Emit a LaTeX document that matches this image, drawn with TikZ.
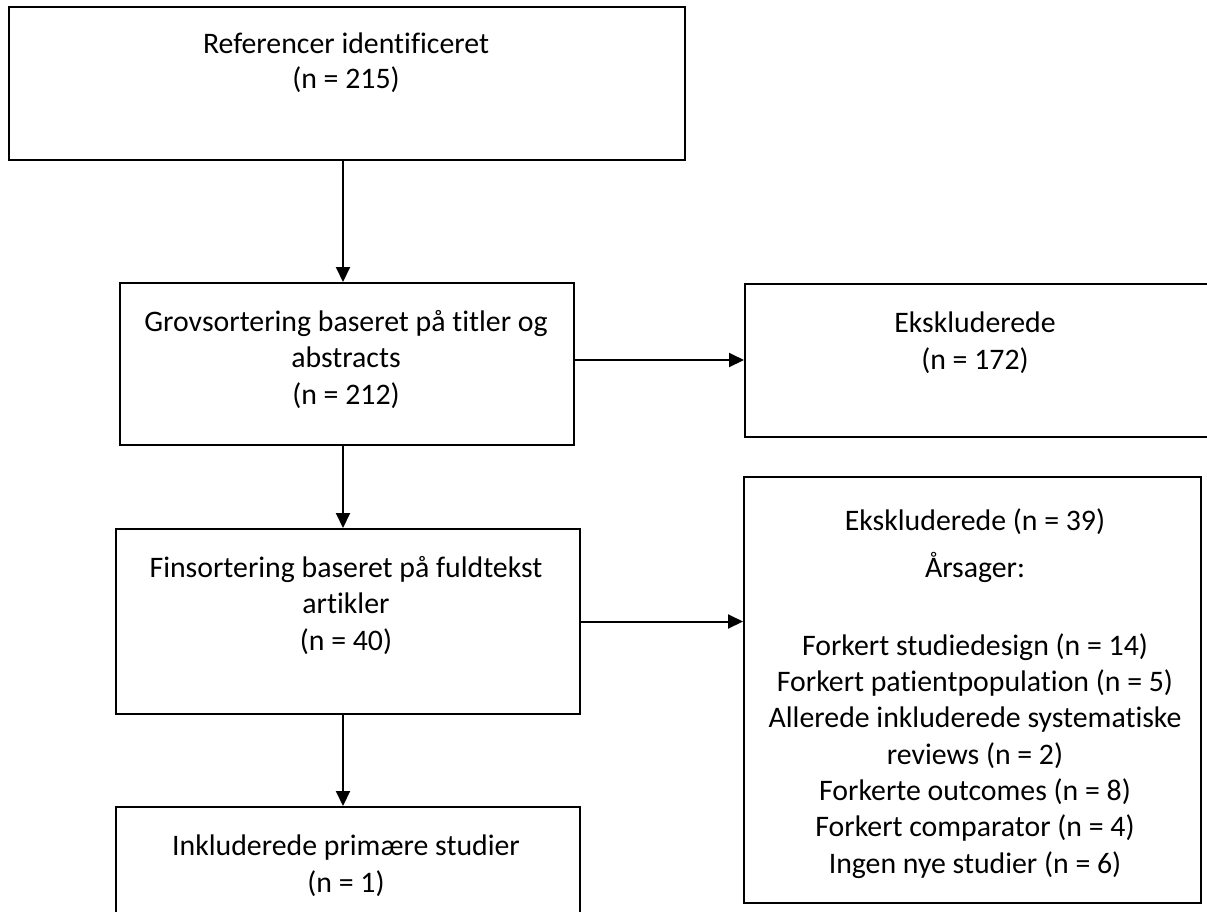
\documentclass[tikz,border=0pt]{standalone}
\usepackage{fontspec}
\setmainfont{Carlito}[RawFeature={-liga;-clig;-dlig}]
\usetikzlibrary{arrows.meta}
\begin{document}
\begin{tikzpicture}[x=1pt,y=-1pt,
  box/.style={draw=black,line width=2pt,fill=none,inner sep=0pt,anchor=north west},
  txt/.style={align=center,anchor=base,inner sep=0pt,font=\fontsize{29.8}{36.3}\selectfont},
  arr/.style={line width=2pt,-{Triangle[length=15pt,width=14pt]}}]
\useasboundingbox (0,0) rectangle (1207,911);
\clip (0,0) rectangle (1207,911);
\node[box,minimum width=676pt,minimum height=153pt] (b1) at (8,6) {};
\node[box,minimum width=454pt,minimum height=162pt] (b2) at (119,282) {};
\node[box,minimum width=480pt,minimum height=153pt] (b3) at (744,283) {};
\node[box,minimum width=464pt,minimum height=185pt] (b4) at (115,528) {};
\node[box,minimum width=457pt,minimum height=426pt] (b5) at (743,476) {};
\node[box,minimum width=464pt,minimum height=130pt] (b6) at (115,806) {};
\node[txt] (t1) at (346,88) {Referencer identificeret\\[-1.3pt](n = 215)};
\node[txt] (t2) at (346,404) {Grovsortering baseret på titler og\\abstracts\\(n = 212)};
\node[txt] (t3) at (975,369) {Ekskluderede\\(n = 172)};
\node[txt] (t4) at (346,650) {Finsortering baseret på fuldtekst\\artikler\\(n = 40)};
\node[txt] (t5) at (975,873) {Ekskluderede (n = 39)\\[10.7pt]Årsager:\\[41.7pt]Forkert studiedesign (n = 14)\\Forkert patientpopulation (n = 5)\\Allerede inkluderede systematiske\\reviews (n = 2)\\Forkerte outcomes (n = 8)\\Forkert comparator (n = 4)\\Ingen nye studier (n = 6)};
\node[txt] (t6) at (346,892) {Inkluderede primære studier\\(n = 1)};
\draw[arr] ([xshift=-4pt]b1.south) -- ([xshift=-4pt]b1.south |- b2.north);
\draw[arr] ([yshift=4pt]b2.east) -- ([yshift=4pt]b2.east -| b3.west);
\draw[arr] ([xshift=-4pt]b2.south) -- ([xshift=-4pt]b2.south |- b4.north);
\draw[arr] (b4.east) -- (b4.east -| b5.west);
\draw[arr] ([xshift=-5pt]b4.south) -- ([xshift=-5pt]b4.south |- b6.north);
\end{tikzpicture}
\end{document}
